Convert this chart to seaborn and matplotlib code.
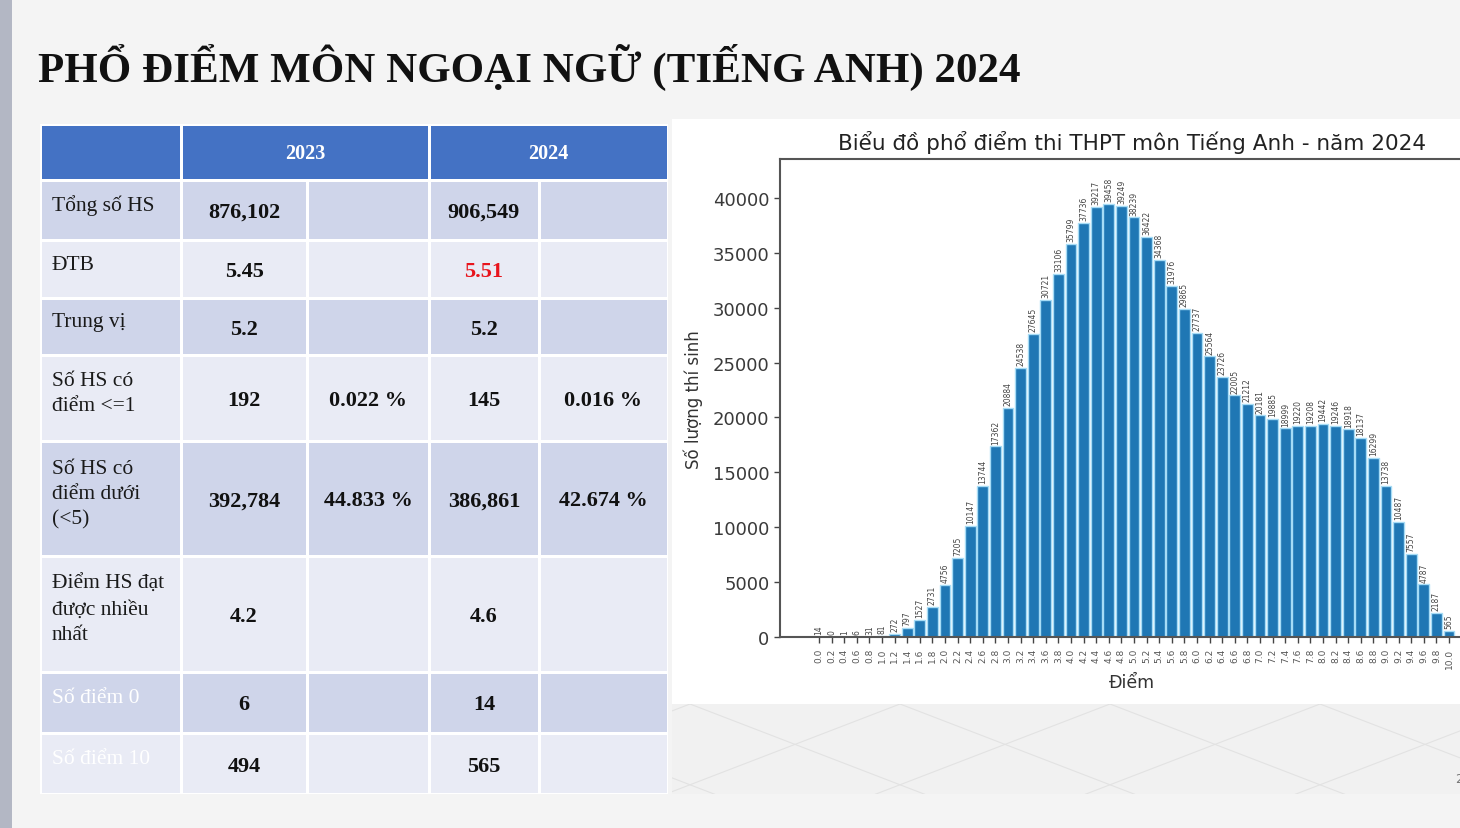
import matplotlib
matplotlib.use("Agg")
import matplotlib.pyplot as plt
import seaborn as sns
from matplotlib.patches import Rectangle

# ---------------- data ----------------
scores = ["0.0", "0.2", "0.4", "0.6", "0.8", "1.0", "1.2", "1.4", "1.6", "1.8",
          "2.0", "2.2", "2.4", "2.6", "2.8", "3.0", "3.2", "3.4", "3.6", "3.8",
          "4.0", "4.2", "4.4", "4.6", "4.8", "5.0", "5.2", "5.4", "5.6", "5.8",
          "6.0", "6.2", "6.4", "6.6", "6.8", "7.0", "7.2", "7.4", "7.6", "7.8",
          "8.0", "8.2", "8.4", "8.6", "8.8", "9.0", "9.2", "9.4", "9.6", "9.8",
          "10.0"]
counts = [14, 0, 1, 6, 31, 81, 272, 797, 1527, 2731,
          4756, 7205, 10147, 13744, 17362, 20884, 24538, 27645, 30721, 33106,
          35799, 37736, 39217, 39458, 39249, 38239, 36422, 34368, 31976, 29865,
          27737, 25564, 23726, 22005, 21212, 20181, 19885, 18999, 19220, 19208,
          19442, 19246, 18918, 18137, 16299, 13738, 10487, 7557, 4787, 2187,
          565]
yticks = [0, 5000, 10000, 15000, 20000, 25000, 30000, 35000, 40000]

slide_title = "PHỔ ĐIỂM MÔN NGOẠI NGỮ (TIẾNG ANH) 2024"
chart_title = "Biểu đồ phổ điểm thi THPT môn Tiếng Anh - năm 2024"
x_label = "Điểm"
y_label = "Số lượng thí sinh"

header_years = ["2023", "2024"]
row_labels = ["Tổng số HS", "ĐTB", "Trung vị", "Số HS có\nđiểm <=1",
              "Số HS có\nđiểm dưới\n(<5)", "Điểm HS đạt\nđược nhiều\nnhất",
              "Số điểm 0", "Số điểm 10"]
val_2023 = ["876,102", "5.45", "5.2", "192", "392,784", "4.2", "6", "494"]
pct_2023 = ["", "", "", "0.022 %", "44.833 %", "", "", ""]
val_2024 = ["906,549", "5.51", "5.2", "145", "386,861", "4.6", "14", "565"]
pct_2024 = ["", "", "", "0.016 %", "42.674 %", "", "", ""]

# ---------------- style ----------------
sns.set_style("ticks")
plt.rcParams["font.family"] = ["DejaVu Sans"]

W, H = 1460, 829
fig = plt.figure(figsize=(W / 100, H / 100), dpi=100)
fig.patch.set_facecolor("#f4f4f4")

bg = fig.add_axes([0, 0, 1, 1])
bg.set_xlim(0, W)
bg.set_ylim(H, 0)
bg.axis("off")

# left decorative bar
bg.add_patch(Rectangle((0, 0), 12, H, color="#b3b7c4", lw=0))

# slide title
bg.text(38, 82, slide_title, fontsize=31, fontweight="bold",
        family="Liberation Serif", color="#111111", va="baseline", ha="left")

# ---------------- table ----------------
xe = [40, 181, 307, 429, 539, 668]
ye = [125, 181, 241, 299, 356, 442, 557, 673, 734, 795]
dark = "#cfd5ea"
light = "#e9ebf5"
hdr = "#4472c4"
g = 1.5
bg.add_patch(Rectangle((xe[0], ye[0]), xe[-1] - xe[0], ye[-1] - ye[0],
                       color="white", lw=0))
# header
bg.add_patch(Rectangle((xe[0] + g, ye[0] + g), xe[1] - xe[0] - 2 * g,
                       ye[1] - ye[0] - 2 * g, color=hdr, lw=0))
for k, (a, b) in enumerate([(xe[1], xe[3]), (xe[3], xe[5])]):
    bg.add_patch(Rectangle((a + g, ye[0] + g), b - a - 2 * g,
                           ye[1] - ye[0] - 2 * g, color=hdr, lw=0))
    bg.text((a + b) / 2, (ye[0] + ye[1]) / 2 + 1, header_years[k],
            family="Liberation Serif", fontweight="bold", fontsize=14.5,
            color="white", ha="center", va="center")

for r in range(len(row_labels)):
    y0, y1 = ye[r + 1], ye[r + 2]
    fc = dark if r % 2 == 0 else light
    for c in range(5):
        bg.add_patch(Rectangle((xe[c] + g, y0 + g), xe[c + 1] - xe[c] - 2 * g,
                               y1 - y0 - 2 * g, color=fc, lw=0))
    yc = (y0 + y1) / 2
    lab_col = "white" if r >= 6 else "#1a1a1a"
    bg.text(52, yc - 5, row_labels[r], family="Liberation Serif", fontsize=15.5,
            color=lab_col, ha="left", va="center", linespacing=1.45)
    cells = [val_2023[r], pct_2023[r], val_2024[r], pct_2024[r]]
    for c, txt in enumerate(cells):
        if not txt:
            continue
        col = "#e8141c" if (r == 1 and c == 2) else "#111111"
        bg.text((xe[c + 1] + xe[c + 2]) / 2, yc + 2, txt,
                family="Liberation Serif", fontweight="bold", fontsize=16,
                color=col, ha="center", va="center")

# ---------------- chart panel ----------------
bg.add_patch(Rectangle((672, 120), W - 672, 705 - 120, color="white", lw=0))
bg.add_patch(Rectangle((672, 705), W - 672, 795 - 705, color="#f1f1f1", lw=0))
clip = Rectangle((672, 705), W - 672, 795 - 705, transform=bg.transData)
for x0 in range(480, 1700, 210):
    ln1, = bg.plot([x0, x0 + 260], [705, 795 + 10], color="#e2e2e2", lw=0.8)
    ln2, = bg.plot([x0, x0 - 260], [705, 795 + 10], color="#e2e2e2", lw=0.8)
    ln1.set_clip_path(clip)
    ln2.set_clip_path(clip)
bg.text(1455, 780, "2", fontsize=9, color="#777777", ha="left", va="center")

ax_l, ax_r, ax_t, ax_b = 780, 1475, 160, 638
ax = fig.add_axes([ax_l / W, (H - ax_b) / H, (ax_r - ax_l) / W, (ax_b - ax_t) / H])
ax.set_facecolor("white")

sns.barplot(x=scores, y=counts, order=scores, color="#1f77b4", saturation=1,
            edgecolor="#a6dcf6", linewidth=1.0, width=0.86, errorbar=None, ax=ax)
ax.bar_label(ax.containers[0], labels=[str(c) for c in counts], rotation=90,
             fontsize=5.5, padding=2, color="#444444")

ax.set_xlim(-3.1, 52.06)
ax.set_ylim(0, 43550)
ax.set_yticks(yticks)
ax.set_yticklabels([str(v) for v in yticks], fontsize=13, color="#3a3a3a")
ax.tick_params(axis="x", labelrotation=90, labelsize=6.5, labelcolor="#555555",
               length=4, width=1, color="#444444")
ax.tick_params(axis="y", length=4, width=1, color="#444444")
ax.set_xlabel("")
ax.set_ylabel("")
for s in ["left", "top", "bottom", "right"]:
    ax.spines[s].set_visible(True)
    ax.spines[s].set_color("#555555")
    ax.spines[s].set_linewidth(1.5)

fig.text(1132 / W, (H - 143) / H, chart_title, fontsize=15.5, color="#222222",
         ha="center", va="center")
fig.text(693 / W, (H - 400) / H, y_label, fontsize=12, color="#333333",
         rotation=90, ha="center", va="center")
fig.text(1132 / W, (H - 683) / H, x_label, fontsize=12.5, color="#333333",
         ha="center", va="center")

fig.savefig("out.png", dpi=100, facecolor=fig.get_facecolor())
